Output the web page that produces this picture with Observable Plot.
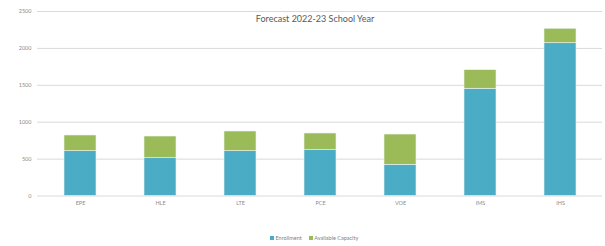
<!DOCTYPE html>
<html><head><meta charset="utf-8">
<script src="https://cdn.jsdelivr.net/npm/d3@7"></script>
<script src="https://cdn.jsdelivr.net/npm/@observablehq/plot@0.6"></script>
<style>
html,body{margin:0;padding:0;background:#fff;}
#wrap{position:relative;width:605px;height:246px;font-family:Lato,"Open Sans",sans-serif;}
#title{position:absolute;left:0;width:630px;top:13px;text-align:center;font-size:9px;color:#595959;}
#legend{position:absolute;left:270px;top:235px;font-size:5.5px;color:#7f7f7f;display:flex;gap:7px;align-items:center;}
#legend span{display:inline-flex;align-items:center;gap:1.5px;}
#legend i{display:inline-block;width:4px;height:4px;}
</style></head>
<body><div id="wrap"><div id="chart"></div><div id="title">Forecast 2022-23 School Year</div>
<div id="legend"><span><i style="background:#4bacc6"></i>Enrollment</span><span><i style="background:#9bbb59"></i>Available Capacity</span></div></div>
<script>
const schools = ["EPE","HLE","LTE","PCE","VOE","IMS","IHS"];
const enrollment = [607, 512, 607, 621, 423, 1453, 2070];
const availableCapacity = [213, 294, 267, 226, 410, 252, 196];
const seriesNames = ["Enrollment","Available Capacity"];
const seriesColors = ["#4bacc6","#9bbb59"];
const yTicks = [0,500,1000,1500,2000,2500];

const rows = [];
schools.forEach((s,i)=>{
  rows.push({school:s, series:seriesNames[0], value:enrollment[i]});
  rows.push({school:s, series:seriesNames[1], value:availableCapacity[i]});
});

const chart = Plot.plot({
  width:605, height:246,
  marginTop:11, marginBottom:50.5, marginLeft:37, marginRight:3,
  style:{fontFamily:"Lato, 'Open Sans', sans-serif", fontSize:"5.5px", color:"#8c8c8c", background:"#fff"},
  x:{domain:schools, paddingInner:0.6, paddingOuter:0.3, label:null},
  y:{domain:[0,2500], label:null},
  color:{domain:seriesNames, range:seriesColors},
  marks:[
    Plot.gridY(yTicks, {stroke:"#d9d9d9", strokeOpacity:1, strokeWidth:1}),
    Plot.barY(rows, {x:"school", y:"value", fill:"series", order:seriesNames, stroke:"#eef4f6", strokeWidth:0.6}),
    Plot.axisY(yTicks, {tickSize:0, tickPadding:6, label:null, fill:"#8c8c8c", tickFormat:d=>String(d)}),
    Plot.axisX(schools, {tickSize:0, tickPadding:5, label:null, fill:"#8c8c8c"})
  ]
});
document.getElementById("chart").appendChild(chart);
</script></body></html>
